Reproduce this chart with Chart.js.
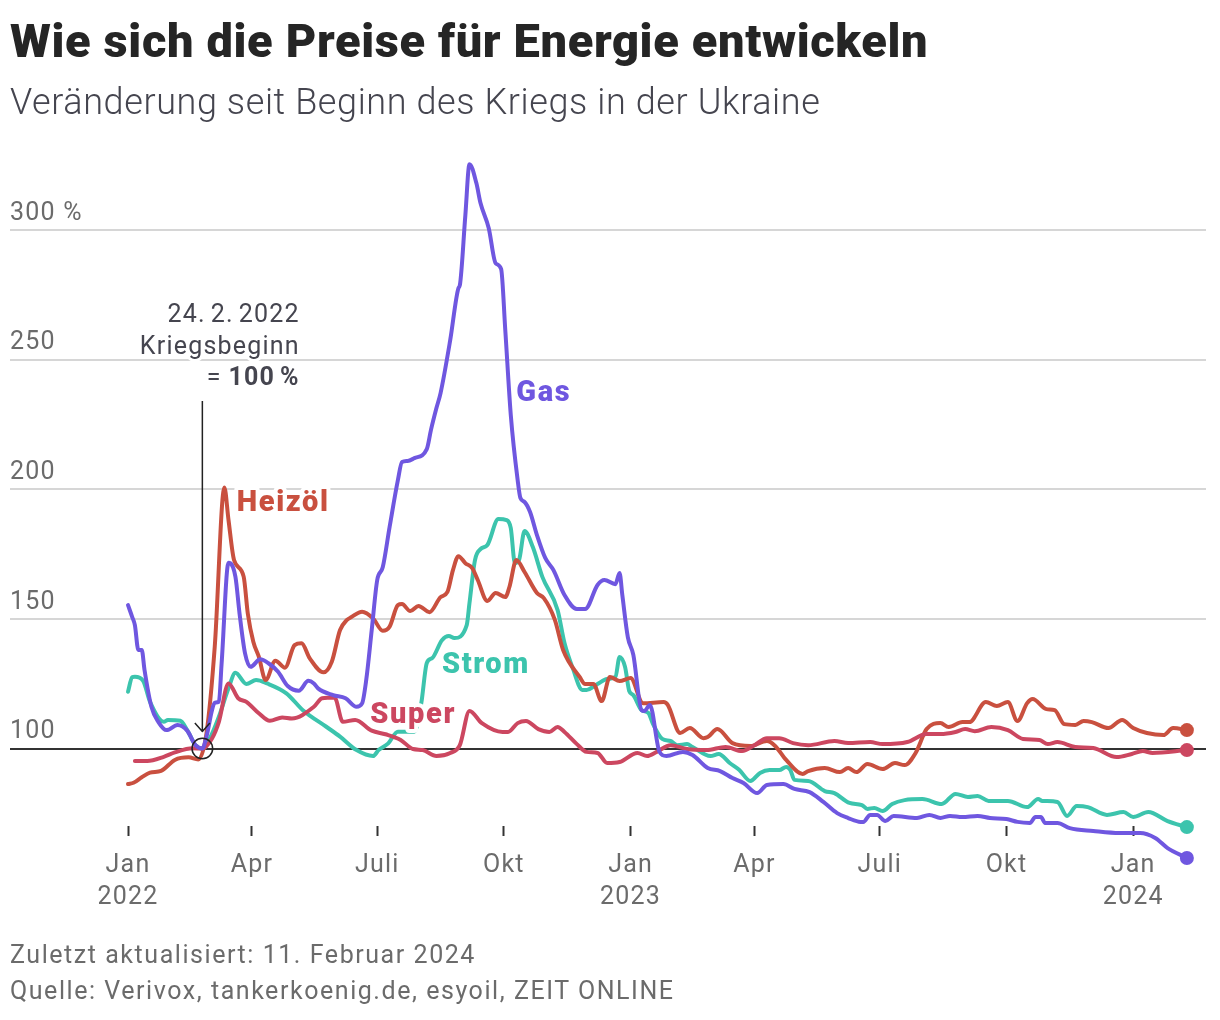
<!DOCTYPE html>
<html lang="de">
<head>
<meta charset="utf-8">
<title>Wie sich die Preise für Energie entwickeln</title>
<script src="https://cdn.jsdelivr.net/npm/chart.js@4"></script>
<style>
  body { margin: 0; background: #fff; width: 1220px; height: 1020px; overflow: hidden; position: relative; font-family: Roboto, sans-serif; }
  canvas { position: absolute; left: 0; top: 0; }
  .txt { position: absolute; left: 10px; margin: 0; white-space: nowrap; }
  #title { top: 13px; font-size: 47px; line-height: 56px; font-weight: 900; color: #252525; letter-spacing: 0.63px; }
  #sub { top: 80px; font-size: 36px; line-height: 44px; font-weight: 300; color: #45454f; letter-spacing: 0.6px; }
  .foot { font-size: 25px; line-height: 32px; color: #6b6b6b; letter-spacing: 1.55px; }
</style>
</head>
<body>
<canvas id="chart" width="1220" height="1020"></canvas>
<h1 class="txt" id="title">Wie sich die Preise für Energie entwickeln</h1>
<p class="txt" id="sub">Veränderung seit Beginn des Kriegs in der Ukraine</p>
<p class="txt foot" style="top:939px">Zuletzt aktualisiert: 11. Februar 2024</p>
<p class="txt foot" style="top:975px">Quelle: Verivox, tankerkoenig.de, esyoil, ZEIT ONLINE</p>
<script>
// days since 1 Jan 2022, values in percent (24.2.2022 = 100)
const gasDays = [0,3,5,7.5,10,12,17,22,28,36,43,49,54,57,61,63,66,68,73,78,81,85,89,96,102,109,116,124,131,135,138,149,158,166,170,173,177,181,185,190,196,199,203,208,217,220,224,227,234,240,241,245,248,253,256,262,267,271,274,278,283,285,288,292,297,303,309,317,326,332,341,346,354,357,359,363,367,373,375,379,386,391,403,410,421,430,439,447,457,464,476,484,495,505,515,523,532,534,539,544,550,556,573,582,590,597,606,617,626,638,646,655,659,663,666,675,684,701,720,735,746,755,769];
const gasValues = [155.3,150.8,147.6,138,138,130.3,116.1,110.3,107.1,109.1,106.9,101.3,100,104.6,114.8,117.7,118,132.9,171.7,166.3,152.1,136.7,131.5,134.4,132.9,129.6,124.1,122.3,126.1,125.1,123.2,120.6,119.4,116.1,117.4,126.4,145.7,165,169.9,185.5,203.5,210.5,210.9,212,215.5,222.8,231.3,237.1,257.5,277.6,278.7,305.7,325.4,318.1,310.4,300.7,287.2,284.9,261.4,228.6,203.5,196.6,195.1,191.2,182.3,173.5,168.8,159.2,153.8,153.8,163.1,165,163.4,167.7,159.2,143,136.1,114.8,114.5,116.8,98.7,97.1,98.7,97.5,92.5,91.3,88.6,86.7,82.8,85.9,86.3,84.4,83.2,79.4,75.1,73.2,71.7,71.7,74.4,74.4,72,74,73.2,74.4,73.2,74,73.6,74,73.2,72.8,71.7,71.3,73.6,73.6,71.3,71.3,69.3,68.2,67.4,67.4,65.5,61.6,57.8];

const stromDays = [0,3,5,11,16,26,29,38,43,49,54,60,66,73,78,86,93,101,115,127,144,154,166,178,182,189,196,201,208,213,217,221,228,233,237,246,248,252,256,261,269,275,278,281,284,288,294,301,312,317,323,330,333,341,348,354,357,361,364,367,373,378,381,388,394,399,406,410,423,429,437,444,452,459,466,473,478,481,484,494,506,513,524,533,537,542,548,555,564,577,591,601,610,617,625,639,653,661,664,675,682,689,697,711,723,730,741,755,769];
const stromValues = [121.9,127.5,127.7,126.1,118,110.3,111,110.7,107.1,101.3,100,104.6,112.3,123.2,129.2,124.9,126.4,125.1,121.3,114.8,108.4,104.6,99.4,97.1,99.4,102,106.5,106.5,106.5,117.5,133,134.9,141.8,143.4,142.6,147.6,156.1,172.7,176.9,178.5,188.5,188.1,185,171.5,172.7,183.9,177.7,166.1,153.4,140.7,131,122.6,122.6,124.9,126.8,127.6,135.3,131.4,122.2,120.6,114.8,113.7,109.8,103.7,102.9,101.3,101.7,100.6,97.1,97.9,94.4,91.7,87.5,90.6,91.7,91.7,92.9,91.7,87.9,87.5,83.6,82.8,79,78.2,76.7,77.1,75.9,78.6,80.1,80.5,78.6,82.5,81.3,81.7,79.8,79.8,77.4,80.5,79.8,79.4,74,77.8,77.4,74.4,75.5,73.6,75.5,72,69.7];

const heizoelDays = [0,4,10,16,24,34,44,51,57,63,70,73,77,84,87,91,95,100,107,114,121,126,132,142,148,154,159,162,170,178,185,190,196,199,205,211,219,227,232,236,240,245,250,254,261,267,274,277,282,288,297,302,310,316,328,332,338,344,350,357,365,374,389,392,401,408,418,421,428,439,452,464,470,478,490,494,506,517,523,529,537,548,557,564,572,580,590,596,606,611,623,631,639,646,653,657,667,673,680,688,694,700,712,722,730,740,752,759,769];
const heizoelValues = [86.3,86.8,88.9,90.7,91.4,95.6,96.6,95.8,105.9,139.3,200.7,188.1,172.7,166.3,152.1,141.2,135.4,126.4,133.9,131.2,139.9,140.6,134.8,129.4,133.5,145.7,149.6,150.6,152.8,150.2,145.4,147,155.3,155.7,153,155,152.6,158.4,160.4,168.8,174.2,171.5,169.6,165,156.9,160,158.4,162.3,172.7,168.1,160,158,149.6,138,127.6,124.9,124.9,118.3,127.6,126,127.2,117.5,117.9,116.8,106,107.9,104,104.4,107.5,102.1,101,102.9,101,95.6,90.2,91.3,92.5,90.9,92.5,90.9,94,92.1,94.4,93.6,98.3,107.5,109.8,108.3,110.2,110.2,117.9,116.4,117.9,110.6,117.5,119.1,115.2,114.8,109.4,109.1,110.6,110.2,107.9,111,107.9,106,105.2,107.9,107.1];

const superDays = [5,14,26,34,47,54,61,66,73,80,86,95,103,112,119,135,141,150,156,165,177,187,198,207,214,224,234,241,248,257,272,276,283,289,298,306,312,317,326,333,341,348,357,370,377,384,394,406,420,434,446,455,464,473,483,494,513,523,539,548,566,580,590,601,608,615,627,639,650,662,668,675,688,701,718,729,737,744,769];
const superValues = [95.2,95.2,96.8,98.5,100.1,100,103.9,110.3,125.1,119.4,118,113.6,110.7,112,111.6,116.1,119.4,119.7,110.3,111,106.9,105.5,103.3,99.8,99.4,97.1,98.3,101.3,114.5,109.8,106.4,106.4,109.8,110.6,107.5,106.4,108.3,106.4,101.7,98.7,98.3,94.4,94.8,98.3,97.1,98.7,101.3,99.8,99.4,100.6,99,101.3,104,104,102.1,101.3,102.9,102.1,102.5,101.7,102.5,105.6,105.6,106.4,107.5,106.7,108.3,107.1,103.7,103.3,101.7,102.5,100.6,100.2,96.7,97.9,99,98.3,99.4];

const yTicks = [100, 150, 200, 250, 300];
const xTicks = [0, 90, 181, 273, 365, 455, 546, 638, 730];
const xTickLabels = [['Jan', '2022'], ['Apr'], ['Juli'], ['Okt'], ['Jan', '2023'], ['Apr'], ['Juli'], ['Okt'], ['Jan', '2024']];

const warDay = 54;
const GAS = '#6f57e0', STROM = '#3cc4ad', HEIZOEL = '#c9503f', SUPER = '#cc4760';

// name, color, day and value of the label anchor
const seriesNotes = [
  ['Gas', GAS, 282, 236.8],
  ['Heizöl', HEIZOEL, 79, 194.3],
  ['Strom', STROM, 228, 131.9],
  ['Super', SUPER, 176, 112.6]
];

function series(days, values, color) {
  return {
    data: days.map((d, i) => ({ x: d, y: values[i] })),
    borderColor: color,
    backgroundColor: color,
    borderWidth: 4,
    borderJoinStyle: 'round',
    borderCapStyle: 'round',
    cubicInterpolationMode: 'monotone',
    clip: false,
    pointBorderWidth: 0,
    pointRadius: (c) => c.dataIndex === days.length - 1 ? 7 : 0
  };
}

const notes = {
  id: 'notes',
  beforeDraw(chart) {
    chart.ctx.letterSpacing = '1.2px';
  },
  afterDatasetsDraw(chart) {
    const ctx = chart.ctx, x = chart.scales.x, y = chart.scales.y;
    ctx.save();
    ctx.textBaseline = 'middle';
    ctx.lineJoin = 'round';

    // war start marker
    const wx = x.getPixelForValue(warDay), wy = y.getPixelForValue(100);
    ctx.strokeStyle = '#222';
    ctx.lineWidth = 1.5;
    ctx.beginPath();
    ctx.moveTo(wx, y.getPixelForValue(234));
    ctx.lineTo(wx, wy - 17);
    ctx.moveTo(wx - 7.5, wy - 25.5);
    ctx.lineTo(wx, wy - 17);
    ctx.lineTo(wx + 7.5, wy - 25.5);
    ctx.stroke();
    ctx.beginPath();
    ctx.arc(wx, wy, 10.3, 0, Math.PI * 2);
    ctx.stroke();

    const ax = x.getPixelForValue(124.7);
    ctx.textAlign = 'right';
    ctx.wordSpacing = '-2.5px';
    const warText = [['24. 2. 2022', 266.9], ['Kriegsbeginn', 254.5]];
    ctx.font = '400 25px Roboto';
    warText.forEach(([t, v]) => {
      const py = y.getPixelForValue(v);
      ctx.strokeStyle = '#fff';
      ctx.lineWidth = 6;
      ctx.strokeText(t, ax, py);
      ctx.fillStyle = '#45454f';
      ctx.fillText(t, ax, py);
    });
    const py = y.getPixelForValue(242.5);
    ctx.font = '700 25px Roboto';
    ctx.strokeStyle = '#fff';
    ctx.lineWidth = 6;
    ctx.strokeText('100 %', ax, py);
    ctx.fillStyle = '#45454f';
    ctx.fillText('100 %', ax, py);
    const w = ctx.measureText('100 %').width;
    ctx.font = '400 25px Roboto';
    ctx.fillText('= ', ax - w - 2, py);
    ctx.wordSpacing = '0px';

    // series names with a white halo, this also hides part of the Strom line
    ctx.textAlign = 'left';
    ctx.font = '900 29px Roboto';
    ctx.letterSpacing = '1.6px';
    seriesNotes.forEach(([t, color, d, v]) => {
      const px = x.getPixelForValue(d), ly = y.getPixelForValue(v);
      ctx.strokeStyle = '#fff';
      ctx.lineWidth = 8;
      ctx.strokeText(t, px, ly);
      ctx.fillStyle = color;
      ctx.fillText(t, px, ly);
    });
    ctx.restore();
  }
};

new Chart(document.getElementById('chart'), {
  type: 'line',
  data: {
    datasets: [
      series(gasDays, gasValues, GAS),
      series(superDays, superValues, SUPER),
      series(heizoelDays, heizoelValues, HEIZOEL),
      series(stromDays, stromValues, STROM)
    ]
  },
  options: {
    responsive: false,
    animation: false,
    layout: { padding: { left: 10, right: 14, top: 160, bottom: 100 } },
    plugins: { legend: { display: false }, tooltip: { enabled: false }, title: { display: false } },
    scales: {
      x: {
        type: 'linear',
        position: { y: 70.11 },   // axis floats above the end of the gas line
        min: -85.7,
        max: 782.9,
        afterBuildTicks: (s) => { s.ticks = xTicks.map((v) => ({ value: v })); },
        border: { display: false },
        grid: { drawOnChartArea: false, drawTicks: true, tickLength: 10, tickColor: '#333', tickWidth: 2 },
        ticks: {
          autoSkip: false,
          maxRotation: 0,
          padding: 14,
          color: '#6b6b6b',
          font: { family: 'Roboto', size: 25, lineHeight: 1.28 },
          callback: (v, i) => xTickLabels[i]
        }
      },
      y: {
        min: 33.86,
        max: 327,
        afterBuildTicks: (s) => { s.ticks = yTicks.map((v) => ({ value: v })); },
        afterFit: (s) => { s.width = 0; },
        border: { display: false },
        grid: {
          drawTicks: false,
          lineWidth: 2,
          color: (c) => c.tick.value === 100 ? '#333' : '#d6d6d6'
        },
        ticks: {
          mirror: true,
          padding: 0,
          labelOffset: -16.5,
          color: '#6b6b6b',
          font: { family: 'Roboto', size: 25 },
          callback: (v) => v === 300 ? '300 %' : String(v)
        }
      }
    }
  },
  plugins: [notes]
});
</script>
</body>
</html>
